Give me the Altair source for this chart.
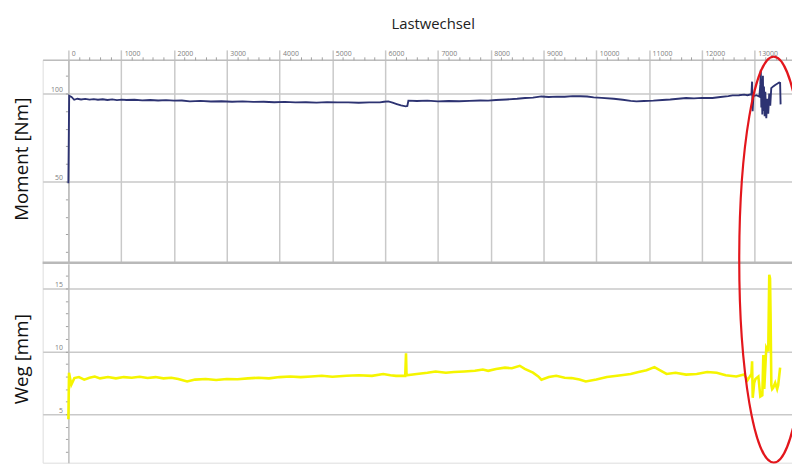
import altair as alt
import pandas as pd

# ---------------- data ----------------
moment_t = [0, 15, 60, 110, 170, 240, 320, 400, 480, 560, 650, 740, 830, 920, 1010,
            1100, 1250, 1400, 1550, 1700, 1850, 2000, 2150, 2300, 2500, 2700, 2900,
            3100, 3300, 3500, 3700, 3900, 4100, 4300, 4500, 4700, 4900, 5100, 5300,
            5500, 5700, 5900, 5980, 6060, 6140, 6220, 6300, 6390, 6420, 6440, 6600,
            6800, 7000, 7200, 7400, 7600, 7800, 7950, 8100, 8300, 8500, 8650, 8800,
            8960, 9100, 9250, 9400, 9550, 9700, 9825, 9950, 10100, 10330, 10500,
            10650, 10760, 10900, 11080, 11250, 11400, 11550, 11700, 11850, 12000,
            12200, 12350, 12500, 12580, 12700, 12800, 12863, 12938, 12950, 12960,
            12975, 13031, 13088, 13106, 13115, 13125, 13135, 13144, 13155, 13163,
            13175, 13188, 13200, 13219, 13238, 13256, 13275, 13294, 13313, 13350,
            13388, 13425, 13463, 13481, 13490]
moment_v = [49.0, 98.7, 98.0, 96.4, 97.0, 96.6, 96.9, 96.5, 96.8, 96.4, 96.7, 96.3,
            96.6, 96.2, 96.5, 96.3, 96.4, 96.1, 96.3, 96.0, 96.2, 95.9, 96.0, 95.5,
            95.8, 95.4, 95.6, 95.3, 95.5, 95.2, 95.3, 95.0, 95.2, 94.9, 95.0, 94.8,
            95.1, 94.9, 94.9, 94.7, 94.9, 94.9, 95.3, 95.5, 94.8, 94.0, 93.2, 92.7,
            92.9, 95.9, 95.7, 95.9, 95.5, 95.7, 95.6, 95.8, 96.0, 95.9, 96.3, 96.6,
            97.0, 97.4, 97.6, 98.3, 98.0, 98.2, 98.1, 98.5, 98.4, 98.3, 97.8, 97.5,
            97.0, 96.4, 95.8, 95.5, 95.7, 95.9, 96.3, 96.6, 97.0, 97.4, 97.2, 97.5,
            97.4, 98.0, 98.5, 98.9, 99.0, 99.3, 99.0, 99.6, 106.7, 89.9, 98.5, 99.0,
            98.2, 105.0, 113.5, 92.0, 108.0, 88.0, 110.0, 90.0, 104.0, 87.0, 101.0,
            86.0, 97.0, 88.5, 100.0, 93.0, 103.0, 104.0, 104.8, 105.5, 106.2, 106.0,
            93.8]

weg_t = [0, 12, 56, 113, 200, 300, 400, 500, 600, 750, 900, 1050, 1200, 1350, 1500,
         1650, 1800, 1950, 2081, 2250, 2400, 2600, 2800, 3000, 3206, 3400, 3600, 3800,
         4000, 4200, 4400, 4600, 4800, 5000, 5269, 5500, 5750, 5963, 6100, 6206, 6380,
         6395, 6405, 6600, 6800, 6956, 7150, 7300, 7500, 7700, 7850, 7950, 8100, 8269,
         8400, 8550, 8644, 8800, 8900, 8960, 9100, 9240, 9400, 9530, 9680, 9800, 10000,
         10200, 10470, 10650, 10800, 10950, 11100, 11200, 11330, 11500, 11700, 11900,
         12100, 12280, 12450, 12650, 12800, 12863, 12938, 12950, 12962, 12990, 13013,
         13069, 13106, 13144, 13163, 13181, 13219, 13256, 13275, 13290, 13300, 13315,
         13330, 13350, 13388, 13425, 13444, 13481]
weg_v = [4.6, 8.3, 7.35, 7.87, 7.95, 7.75, 7.9, 8.0, 7.85, 7.95, 7.85, 7.95, 7.9,
         7.98, 7.88, 7.95, 7.85, 7.9, 7.8, 7.6, 7.75, 7.8, 7.72, 7.8, 7.78, 7.85, 7.9,
         7.85, 7.95, 8.0, 7.95, 8.0, 8.05, 7.98, 8.05, 8.1, 8.05, 8.2, 8.1, 8.05, 8.05,
         9.85, 8.1, 8.2, 8.3, 8.4, 8.3, 8.35, 8.4, 8.45, 8.55, 8.45, 8.6, 8.7, 8.65,
         8.85, 8.6, 8.3, 8.0, 7.74, 7.95, 8.05, 7.9, 7.87, 7.75, 7.6, 7.75, 7.95, 8.1,
         8.2, 8.35, 8.5, 8.74, 8.5, 8.2, 8.3, 8.15, 8.2, 8.35, 8.3, 8.1, 8.0, 8.15,
         7.7, 8.2, 9.2, 6.3, 7.5, 7.8, 8.0, 6.4, 6.5, 9.7, 7.0, 10.3, 10.0, 16.1, 15.8,
         13.0, 7.3, 7.0, 7.1, 7.5, 7.0, 7.3, 8.7]

x_major = list(range(0, 14000, 1000))
x_minor = [v for v in range(0, 13800, 200) if v % 1000 != 0]
moment_ticks = list(range(10, 120, 10))
weg_ticks = list(range(2, 17, 1))

X_DOMAIN = [-487.5, 13706]
M_DOMAIN = [3.9, 119.1]
W_DOMAIN = [1.14, 16.97]
ELLIPSE_CENTER = (13360, 17.3)

FONT = "Open Sans"
GRID = "#c9c9c9"
LABEL = "#808080"

df_m = pd.DataFrame({"t": moment_t, "v": moment_v, "i": range(len(moment_t))})
df_w = pd.DataFrame({"t": weg_t, "v": weg_v, "i": range(len(weg_t))})

xscale = alt.Scale(domain=X_DOMAIN, nice=False, zero=False)

x_main_axis = alt.Axis(
    orient="top", values=x_major, tickCount=200, format="d",
    grid=True, gridColor=GRID, gridWidth=1.5,
    domain=True, domainColor="#bdbdbd", domainWidth=1.5,
    ticks=True, tickColor=GRID, tickWidth=1.5, tickSize=10,
    labelAlign="left", labelOffset=3, labelPadding=-7, labelFontSize=7,
    labelColor=LABEL, labelFont=FONT, labelBaseline="bottom",
    labelFlush=False, labelOverlap=False, title=None,
)
x_minor_axis = alt.Axis(
    orient="top", values=x_minor, tickCount=200, grid=False, domain=False, labels=False,
    ticks=True, tickColor="#a0a0a0", tickWidth=1, tickSize=3, title=None,
)


def y_axis(values, step, title, title_y):
    return alt.Axis(
        orient="left", offset=-26, values=values, tickCount=200, format="d",
        labelExpr=f"datum.value % {step} === 0 ? datum.label : ''",
        labelFontSize=7, labelColor=LABEL, labelFont=FONT, labelPadding=3,
        labelBaseline="bottom", labelOffset=-1, labelOverlap=False,
        grid=True, gridColor=GRID, gridWidth=1.5,
        gridOpacity={"condition": {"test": f"datum.value % {step} === 0", "value": 1}, "value": 0},
        domain=True, domainColor="#bdbdbd", domainWidth=1.5,
        ticks=True, tickColor="#a0a0a0", tickSize=3, tickWidth=1,
        title=title, titleFont=FONT, titleFontSize=19, titleFontWeight="normal",
        titleColor="#111111", titleX=-47, titleY=title_y, titleAngle=270,
        titleAlign="center", titleBaseline="middle",
    )


line_m = alt.Chart(df_m).mark_line(color="#2d3372", strokeWidth=1.9).encode(
    x=alt.X("t:Q", scale=xscale, axis=x_main_axis),
    y=alt.Y("v:Q", scale=alt.Scale(domain=M_DOMAIN, range=[205, 0], nice=False, zero=False),
            axis=y_axis(moment_ticks, 50, "Moment [Nm]", 100)),
    order="i:Q",
)
separator = alt.Chart(alt.Data(values=[{}])).mark_rule(color="#b9b9b9", strokeWidth=2.5).encode(
    y=alt.datum(M_DOMAIN[0]),
)
top = alt.layer(line_m, separator)

line_w = alt.Chart(df_w).mark_line(color="#f5f500", strokeWidth=2.6).encode(
    x=alt.X("t:Q", scale=xscale, axis=x_minor_axis),
    y=alt.Y("v:Q", scale=alt.Scale(domain=W_DOMAIN, range=[407, 206], nice=False, zero=False),
            axis=y_axis(weg_ticks, 5, "Weg [mm]", 302)),
    order="i:Q",
)
ellipse = alt.Chart(alt.Data(values=[{}])).mark_point(
    shape="M0,-1A0.17,1,0,1,1,0,1A0.17,1,0,1,1,0,-1Z",
    size=168100, filled=False, color="#e3161c", strokeWidth=2.2, opacity=1,
).encode(
    x=alt.datum(ELLIPSE_CENTER[0]),
    y=alt.datum(ELLIPSE_CENTER[1]),
)
bottom = alt.layer(line_w, ellipse)

chart = alt.layer(top, bottom).resolve_scale(y="independent").resolve_axis(
    x="independent", y="independent"
).properties(
    width=757, height=407,
    autosize=alt.AutoSizeParams(type="none"),
    padding={"left": 35, "top": 50, "right": 0, "bottom": 0},
    title=alt.TitleParams("Lastwechsel", font=FONT, fontSize=15, fontWeight="normal",
                          color="#222222", anchor="middle", dx=16, offset=17),
).configure_view(stroke=None).configure(background="white")

chart.save("out.html", embed_options={"renderer": "svg", "actions": False})
